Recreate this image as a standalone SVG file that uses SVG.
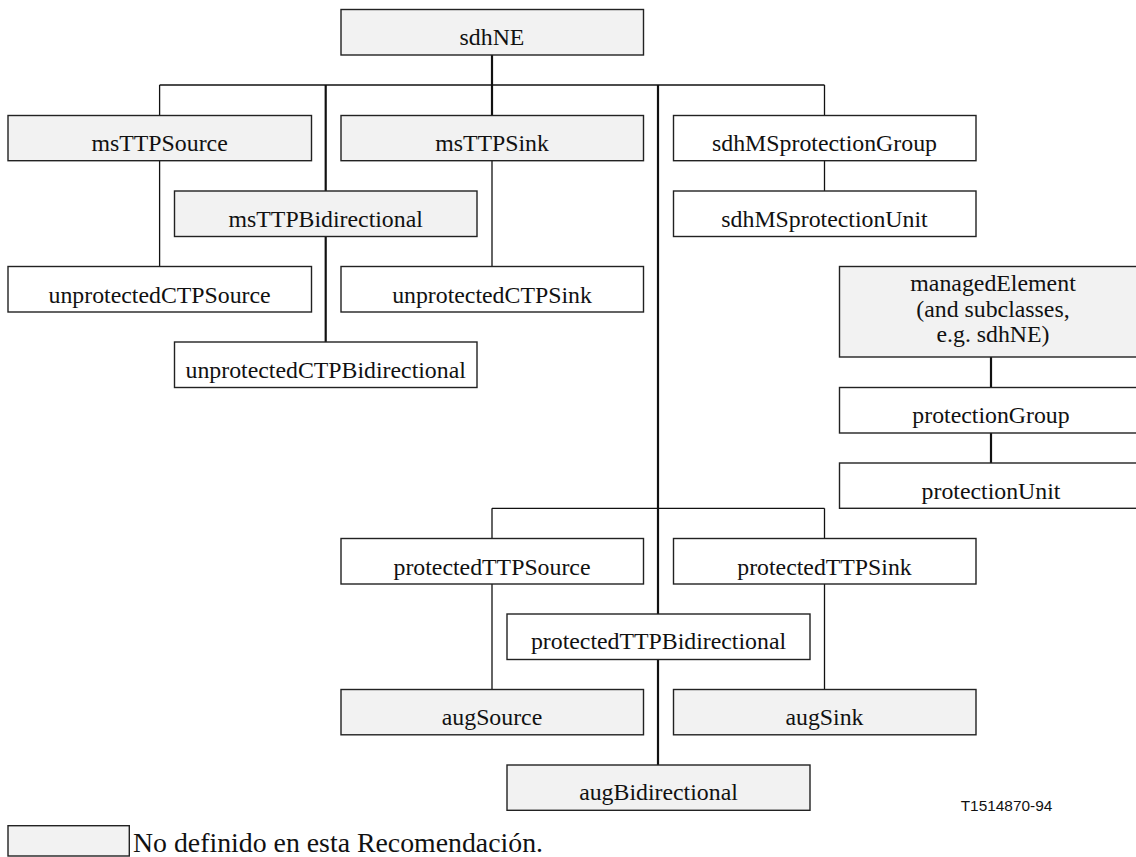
<svg xmlns="http://www.w3.org/2000/svg" width="1136" height="857" viewBox="0 0 1136 857">
<style>
rect.b{stroke:#222;stroke-width:1.4}
rect.g{fill:#f2f2f2}
rect.w{fill:#fff}
text{font-family:"Liberation Serif","Times New Roman",Times,serif;font-size:24px;fill:#111;text-anchor:middle}
text.s{font-family:"Liberation Sans",Arial,sans-serif;font-size:15.5px}
text.leg{font-size:27.5px;text-anchor:start}
#connectors line{stroke:#111;stroke-width:1.3}
#connectors line.t{stroke-width:2.2}
</style>
<rect width="1136" height="857" fill="#fff"/>
<g id="connectors">
<line class="t" x1="492" y1="55" x2="492" y2="115.5"/>
<line x1="159.6" y1="85" x2="824.5" y2="85"/>
<line x1="159.6" y1="85" x2="159.6" y2="115.5"/>
<line class="t" x1="325.7" y1="85" x2="325.7" y2="191"/>
<line class="t" x1="658" y1="85" x2="658" y2="614"/>
<line x1="824.5" y1="85" x2="824.5" y2="115.5"/>
<line x1="159.6" y1="160.7" x2="159.6" y2="266.5"/>
<line x1="492" y1="160.7" x2="492" y2="266.5"/>
<line class="t" x1="325.7" y1="236.5" x2="325.7" y2="342"/>
<line x1="824.5" y1="160.7" x2="824.5" y2="191"/>
<line class="t" x1="991" y1="357" x2="991" y2="387.5"/>
<line class="t" x1="991" y1="433" x2="991" y2="463"/>
<line x1="492" y1="508.3" x2="824.5" y2="508.3"/>
<line x1="492" y1="508.3" x2="492" y2="538.5"/>
<line x1="824.5" y1="508.3" x2="824.5" y2="538.5"/>
<line x1="492" y1="584" x2="492" y2="689.5"/>
<line x1="824.5" y1="584" x2="824.5" y2="689.5"/>
<line class="t" x1="658" y1="659.5" x2="658" y2="765"/>
</g>
<g id="sdhNE"><rect class="b g" x="341" y="9.5" width="302.5" height="45.5"/><text x="492" y="45" textLength="64.8" lengthAdjust="spacingAndGlyphs">sdhNE</text></g>
<g id="msTTPSource"><rect class="b g" x="8" y="115.5" width="303.5" height="45.2"/><text x="159.6" y="151" textLength="136.2" lengthAdjust="spacingAndGlyphs">msTTPSource</text></g>
<g id="msTTPSink"><rect class="b g" x="341" y="115.5" width="302.5" height="45.2"/><text x="492" y="151" textLength="113.7" lengthAdjust="spacingAndGlyphs">msTTPSink</text></g>
<g id="sdhMSprotectionGroup"><rect class="b w" x="673.5" y="115.5" width="302.5" height="45.2"/><text x="824.5" y="151" textLength="225" lengthAdjust="spacingAndGlyphs">sdhMSprotectionGroup</text></g>
<g id="msTTPBidirectional"><rect class="b g" x="174.5" y="191" width="302.5" height="45.5"/><text x="325.7" y="227" textLength="194.3" lengthAdjust="spacingAndGlyphs">msTTPBidirectional</text></g>
<g id="sdhMSprotectionUnit"><rect class="b w" x="673.5" y="191" width="302.5" height="45.5"/><text x="824.5" y="227" textLength="206.3" lengthAdjust="spacingAndGlyphs">sdhMSprotectionUnit</text></g>
<g id="unprotectedCTPSource"><rect class="b w" x="8" y="266.5" width="303.5" height="45.5"/><text x="159.6" y="302.5" textLength="222.1" lengthAdjust="spacingAndGlyphs">unprotectedCTPSource</text></g>
<g id="unprotectedCTPSink"><rect class="b w" x="341" y="266.5" width="302.5" height="45.5"/><text x="492" y="302.5" textLength="199.7" lengthAdjust="spacingAndGlyphs">unprotectedCTPSink</text></g>
<g id="unprotectedCTPBidirectional"><rect class="b w" x="174.5" y="342" width="302.5" height="45.5"/><text x="325.7" y="377.5" textLength="280.3" lengthAdjust="spacingAndGlyphs">unprotectedCTPBidirectional</text></g>
<g id="managedElement"><rect class="b g" x="839.5" y="266.5" width="303" height="90.5"/>
<text x="993" y="291" textLength="165.5" lengthAdjust="spacingAndGlyphs">managedElement</text>
<text x="993" y="316.5" textLength="153.3" lengthAdjust="spacingAndGlyphs">(and subclasses,</text>
<text x="993" y="342.2" textLength="113" lengthAdjust="spacingAndGlyphs">e.g. sdhNE)</text></g>
<g id="protectionGroup"><rect class="b w" x="839.5" y="387.5" width="303" height="45.5"/><text x="991" y="423.3" textLength="157.3" lengthAdjust="spacingAndGlyphs">protectionGroup</text></g>
<g id="protectionUnit"><rect class="b w" x="839.5" y="463" width="303" height="45.3"/><text x="991" y="498.5" textLength="138.8" lengthAdjust="spacingAndGlyphs">protectionUnit</text></g>
<g id="protectedTTPSource"><rect class="b w" x="341" y="538.5" width="302.5" height="45.5"/><text x="492" y="575" textLength="197" lengthAdjust="spacingAndGlyphs">protectedTTPSource</text></g>
<g id="protectedTTPSink"><rect class="b w" x="673.5" y="538.5" width="302.5" height="45.5"/><text x="824.5" y="575" textLength="174.5" lengthAdjust="spacingAndGlyphs">protectedTTPSink</text></g>
<g id="protectedTTPBidirectional"><rect class="b w" x="507" y="614" width="303" height="45.5"/><text x="658.5" y="648.5" textLength="255.2" lengthAdjust="spacingAndGlyphs">protectedTTPBidirectional</text></g>
<g id="augSource"><rect class="b g" x="341" y="689.5" width="302.5" height="45.3"/><text x="492" y="724.7" textLength="100.5" lengthAdjust="spacingAndGlyphs">augSource</text></g>
<g id="augSink"><rect class="b g" x="673.5" y="689.5" width="302.5" height="45.3"/><text x="824.5" y="724.7" textLength="78" lengthAdjust="spacingAndGlyphs">augSink</text></g>
<g id="augBidirectional"><rect class="b g" x="507" y="765" width="303" height="45.3"/><text x="658.5" y="800" textLength="158.7" lengthAdjust="spacingAndGlyphs">augBidirectional</text></g>
<text class="s" x="1006.5" y="810.5" textLength="91.7" lengthAdjust="spacingAndGlyphs">T1514870-94</text>
<g id="legend"><rect class="b g" x="8" y="825.7" width="121.3" height="30.3"/><text class="leg" x="133" y="852" textLength="410" lengthAdjust="spacingAndGlyphs">No definido en esta Recomendación.</text></g>
</svg>
